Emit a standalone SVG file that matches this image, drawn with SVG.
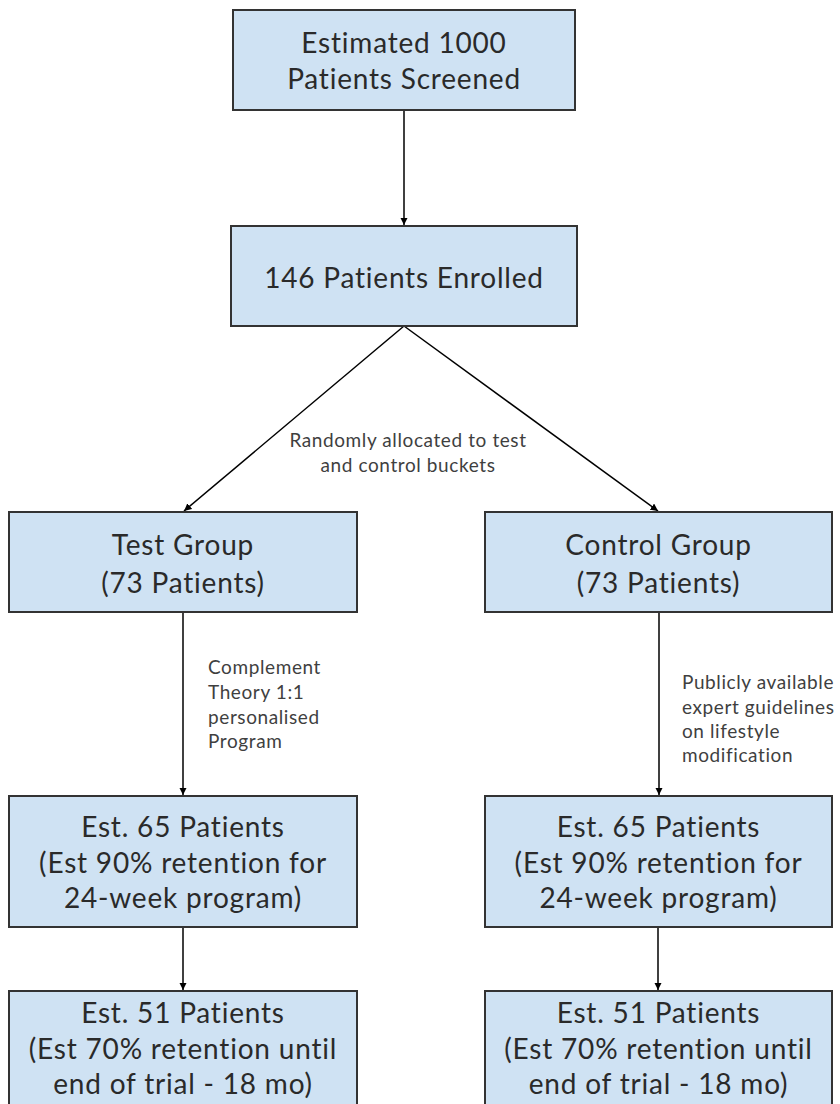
<svg xmlns="http://www.w3.org/2000/svg" width="840" height="1104" viewBox="0 0 840 1104">
<defs>
<style>
.box{fill:#cfe2f3;stroke:#333333;stroke-width:2}
.t{font-family:Lato,"Open Sans",sans-serif;font-size:28px;letter-spacing:0.8px;fill:#2a2a2a;text-anchor:middle}
.s{font-family:Lato,"Open Sans",sans-serif;font-size:19px;letter-spacing:0.6px;fill:#3f3f3f}
.c{stroke:#000;stroke-width:1.5;fill:none;marker-end:url(#ah)}
</style>
<marker id="ah" viewBox="0 0 10 10" refX="10" refY="5" markerWidth="5" markerHeight="5" orient="auto" markerUnits="strokeWidth">
<path d="M0,0 L10,5 L0,10 z" fill="#000"/>
</marker>
</defs>
<rect width="840" height="1104" fill="#fff"/>
<g id="connectors">
<line class="c" x1="404" y1="110" x2="404" y2="225"/>
<line class="c" x1="404" y1="326" x2="184" y2="511"/>
<line class="c" x1="404" y1="326" x2="658" y2="511"/>
<line class="c" x1="183" y1="612" x2="183" y2="795"/>
<line class="c" x1="659" y1="612" x2="659" y2="795"/>
<line class="c" x1="183" y1="927" x2="183" y2="990"/>
<line class="c" x1="658" y1="927" x2="658" y2="990"/>
<text class="s" text-anchor="middle"><tspan x="408" y="447">Randomly allocated to test</tspan><tspan x="408" y="472">and control buckets</tspan></text>
<text class="s"><tspan x="208" y="674">Complement</tspan><tspan x="208" y="699">Theory 1:1</tspan><tspan x="208" y="724">personalised</tspan><tspan x="208" y="748">Program</tspan></text>
<text class="s"><tspan x="682" y="689">Publicly available</tspan><tspan x="682" y="714">expert guidelines</tspan><tspan x="682" y="738">on lifestyle</tspan><tspan x="682" y="762">modification</tspan></text>
</g>
<g id="screened">
<rect class="box" x="233" y="10" width="342" height="100"/>
<text class="t"><tspan x="404" y="53">Estimated 1000</tspan><tspan x="404" y="89">Patients Screened</tspan></text>
</g>
<g id="enrolled">
<rect class="box" x="231" y="226" width="346" height="100"/>
<text class="t" x="404" y="288">146 Patients Enrolled</text>
</g>
<g id="test">
<rect class="box" x="9" y="512" width="348" height="100"/>
<text class="t"><tspan x="183" y="555">Test Group</tspan><tspan x="183" y="593">(73 Patients)</tspan></text>
</g>
<g id="control">
<rect class="box" x="485" y="512" width="347" height="100"/>
<text class="t"><tspan x="658.5" y="555">Control Group</tspan><tspan x="658.5" y="593">(73 Patients)</tspan></text>
</g>
<g id="test65">
<rect class="box" x="9" y="796" width="348" height="131"/>
<text class="t"><tspan x="183" y="837">Est. 65 Patients</tspan><tspan x="183" y="873">(Est 90% retention for</tspan><tspan x="183" y="908">24-week program)</tspan></text>
</g>
<g id="control65">
<rect class="box" x="485" y="796" width="347" height="131"/>
<text class="t"><tspan x="658.5" y="837">Est. 65 Patients</tspan><tspan x="658.5" y="873">(Est 90% retention for</tspan><tspan x="658.5" y="908">24-week program)</tspan></text>
</g>
<g id="test51">
<rect class="box" x="9" y="991" width="348" height="131"/>
<text class="t"><tspan x="183" y="1023">Est. 51 Patients</tspan><tspan x="183" y="1059">(Est 70% retention until</tspan><tspan x="183" y="1094">end of trial - 18 mo)</tspan></text>
</g>
<g id="control51">
<rect class="box" x="485" y="991" width="347" height="131"/>
<text class="t"><tspan x="658.5" y="1023">Est. 51 Patients</tspan><tspan x="658.5" y="1059">(Est 70% retention until</tspan><tspan x="658.5" y="1094">end of trial - 18 mo)</tspan></text>
</g>
</svg>
